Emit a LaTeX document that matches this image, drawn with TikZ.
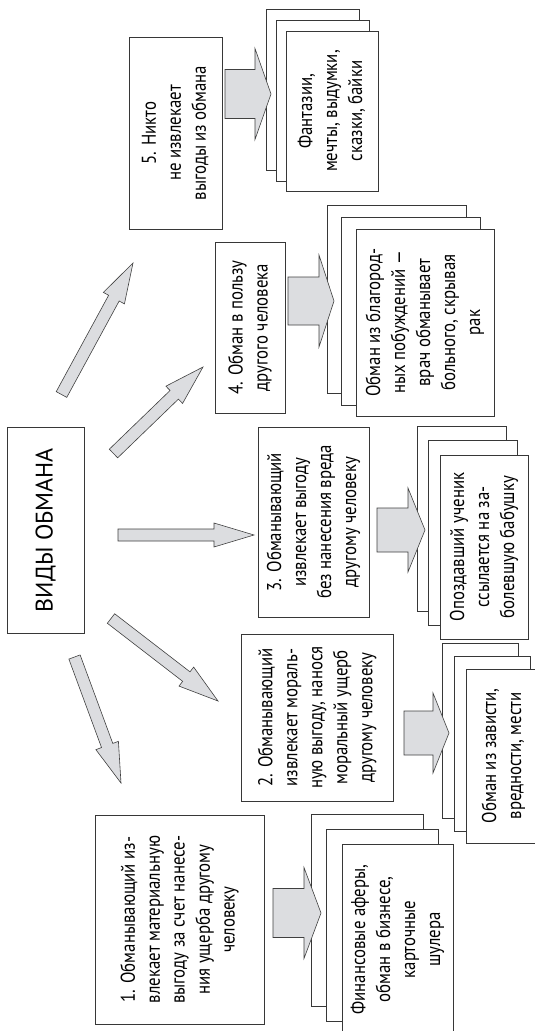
\documentclass[tikz,border=0pt]{standalone}
\usepackage{fontspec}
\setmainfont{PT Sans}[FakeStretch=0.84]
\newfontfamily\titlefont{PT Sans}
\usetikzlibrary{calc, backgrounds}
\definecolor{arrowgray}{RGB}{220,221,224}
\definecolor{linegray}{RGB}{55,55,55}
\newcommand{\vtext}[1]{\rotatebox{90}{\begin{tabular}{@{}c@{}}#1\end{tabular}}}
%% block arrow: style, tail, tip, shaft half width, head half width, head length
\newcommand{\blockarr}[6]{%
  \coordinate (ba-h) at ($(#3)!#6!(#2)$);
  \draw[#1] ($(#2)!#4!90:(#3)$) -- ($(ba-h)!#4!-90:(#2)$) -- ($(ba-h)!#5!-90:(#2)$)
    -- (#3) -- ($(ba-h)!#5!90:(#2)$) -- ($(ba-h)!#4!90:(#2)$) -- ($(#2)!#4!-90:(#3)$) -- cycle;}

\begin{document}
\begin{tikzpicture}[x=1pt, y=-1pt,
  box/.style={rectangle, draw=linegray, line width=1pt, fill=white, inner sep=0pt,
    font=\fontsize{20}{25}\selectfont},
  sheet/.style={draw=linegray, line width=1pt, fill=white},
  arr/.style={draw=black!75, line width=0.6pt, fill=arrowgray, line join=miter}
]
  \useasboundingbox (0,0) rectangle (535,1031);

  \node[box, minimum width=76.5pt, minimum height=206pt,
    font=\titlefont\fontsize{24}{28}\selectfont] (vidy) at (45.75,530)
    {\rotatebox{90}{ВИДЫ ОБМАНА}};

  %% types of deception
  \node[box, minimum width=93.5pt, minimum height=192pt] (type5) at (175.75,133)
    {\vtext{5. Никто\\не извлекает\\выгоды из обмана}};
  \node[box, minimum width=70pt, minimum height=171pt] (type4) at (250,327.5)
    {\vtext{4. Обман в пользу\\другого человека}};
  \node[box, minimum width=111pt, minimum height=190pt] (type3) at (313.5,522)
    {\vtext{3. Обманывающий\\извлекает выгоду\\без нанесения вреда\\другому человеку}};
  \node[box, minimum width=152.5pt, minimum height=167pt] (type2) at (317.25,717.5)
    {\vtext{2. Обманывающий\\извлекает мораль-\\ную выгоду, нанося\\моральный ущерб\\другому человеку}};
  \node[box, minimum width=169.5pt, minimum height=209pt] (type1) at (179.75,919.5)
    {\vtext{1. Обманывающий из-\\влекает материальную\\выгоду за счет нанесе-\\ния ущерба другому\\человеку}};

  %% examples (front sheets of the stacks)
  \node[box, minimum width=92pt, minimum height=160pt] (ex5) at (332,111)
    {\vtext{Фантазии,\\мечты, выдумки,\\сказки, байки}};
  \node[box, minimum width=138pt, minimum height=187pt] (ex4) at (425,322.5)
    {\vtext{Обман из благород-\\ных побуждений —\\врач обманывает\\больного, скрывая\\рак}};
  \node[box, minimum width=88pt, minimum height=184pt] (ex3) at (484,547)
    {\vtext{Опоздавший ученик\\ссылается на за-\\болевшую бабушку}};
  \node[box, minimum width=75pt, minimum height=174pt] (ex2) at (503.5,756)
    {\vtext{Обман из зависти,\\вредности, мести}};
  \node[box, minimum width=111pt, minimum height=191pt] (ex1) at (397.5,939.5)
    {\vtext{Финансовые аферы,\\обман в бизнесе,\\карточные\\шулера}};

  \begin{scope}[on background layer]
    \foreach \n/\dx/\dy in {ex5/9.5/10.5, ex4/14/11.5, ex3/11/14, ex2/11.5/12.5, ex1/15/14.5}
      \foreach \k in {2,1}
        \draw[sheet] ([shift={(-\k*\dx,-\k*\dy)}]\n.south west)
          rectangle ([shift={(-\k*\dx,-\k*\dy)}]\n.north east);
  \end{scope}

  %% arrows from the title
  \coordinate (d5t) at (61.5,394.5);  \coordinate (d5h) at (133,263);
  \coordinate (d4t) at (113.5,453.5); \coordinate (d4h) at (203,367);
  \coordinate (d3t) at (118,535);     \coordinate (d3h) at (254,535);
  \coordinate (d2t) at (111,618.5);   \coordinate (d2h) at (218,701);
  \coordinate (d1t) at (74.5,657);    \coordinate (d1h) at (121,783);
  \foreach \i in {1,...,5}{
    \blockarr{arr}{d\i t}{d\i h}{6pt}{12pt}{40pt}
  }

  %% arrows to the examples
  \coordinate (a5t) at (225,94);  \coordinate (a5h) at (271,94);
  \coordinate (a4t) at (288,301); \coordinate (a4h) at (334,301);
  \coordinate (a3t) at (377,530); \coordinate (a3h) at (425,530);
  \coordinate (a2t) at (404,733); \coordinate (a2h) at (449,733);
  \coordinate (a1t) at (273,913); \coordinate (a1h) at (321,913);
  \blockarr{arr}{a5t}{a5h}{24.5pt}{45.5pt}{16pt}
  \blockarr{arr}{a4t}{a4h}{24pt}{46pt}{15pt}
  \blockarr{arr}{a3t}{a3h}{22pt}{42pt}{17pt}
  \blockarr{arr}{a2t}{a2h}{22pt}{40pt}{16pt}
  \blockarr{arr}{a1t}{a1h}{24.5pt}{45.5pt}{17pt}
\end{tikzpicture}
\end{document}
